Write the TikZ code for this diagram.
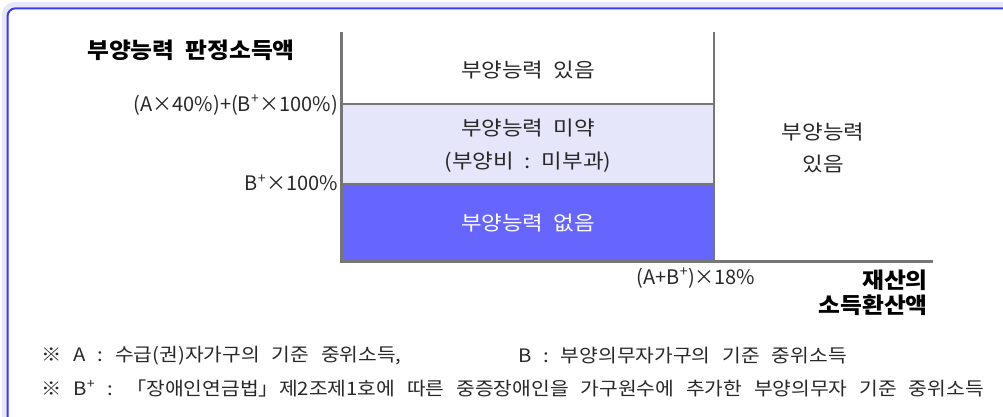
\documentclass[tikz,border=0pt]{standalone}
\usepackage{fontspec}
\setmainfont[WordSpace=2]{Noto Sans CJK KR}
\newfontfamily\lblfont[WordSpace=2, FakeStretch=1.12]{Noto Sans CJK KR}
\newfontfamily\ttlfont[WordSpace=2, FakeStretch=1.08]{Noto Sans CJK KR}
\newfontfamily\notefont[WordSpace=2.6, FakeStretch=1.1]{Noto Sans CJK KR}
\usetikzlibrary{positioning}
\definecolor{framecol}{RGB}{58,58,240}
\definecolor{bandcol}{RGB}{232,232,250}
\definecolor{weakcol}{RGB}{230,230,250}
\definecolor{nonecol}{RGB}{102,102,255}
\definecolor{axiscol}{RGB}{118,118,118}
\definecolor{txtcol}{RGB}{40,40,40}

\begin{document}
\begin{tikzpicture}[x=1pt,y=-1pt,
	axis/.style={draw=axiscol, line width=3pt},
	grid/.style={draw=axiscol, line width=1.3pt},
	lbl/.style={inner sep=0pt, text=txtcol, font=\lblfont\fontsize{20}{32.5}\selectfont, align=center},
	val/.style={inner sep=0pt, text=txtcol, font=\fontsize{20}{24}\selectfont},
	ttl/.style={inner sep=0pt, text=black, font=\ttlfont\fontsize{22}{25}\selectfont\bfseries, align=right},
	note/.style={inner sep=0pt, anchor=west, text=txtcol, font=\notefont\fontsize{18.5}{20}\selectfont}]
	\useasboundingbox (0,0) rectangle (1003,417);
	\clip (0,0) rectangle (1003,417);
	\draw[bandcol, line width=5pt, rounded corners=10pt] (4.5,4.5) rectangle (1040,450);
	\draw[framecol, line width=2pt, rounded corners=8pt] (7.5,8.3) rectangle (1040,450);
	\fill[weakcol] (342,104) rectangle (714,184);
	\fill[nonecol] (342,184) rectangle (714,261);
	\draw[grid] (714,32) -- (714,261);
	\foreach \y in {104,184}{%
		\draw[grid] (342,\y) -- (714,\y);
	}
	\draw[axis] (341.5,32) -- (341.5,261.5) -- (933,261.5);
	\node[ttl] (yname) at (191,50) {부양능력 판정소득액};
	\node[val, anchor=east] (upper) at (338,105) {(A×40\%)+(B\textsuperscript{+}×100\%)};
	\node[val, anchor=east] (lower) at (338,183) {B\textsuperscript{+}×100\%};
	\node[lbl] (able) at (528,70) {부양능력 있음};
	\node[lbl] (weak) at (528,145.5) {부양능력 미약\\(부양비 : 미부과)};
	\node[lbl, text=white] (none) at (528,223) {부양능력 없음};
	\node[lbl] (rich) at (823,148) {부양능력\\있음};
	\node[val] (limit) at (696,278) {(A+B\textsuperscript{+})×18\%};
	\node[ttl, anchor=east] (xname) at (928,292.5) {재산의\\소득환산액};
	\node[note] (noteA) at (41,356) {※ A : 수급(권)자가구의 기준 중위소득,};
	\node[note] (noteB) at (518,356) {B : 부양의무자가구의 기준 중위소득};
	\node[note] (noteC) at (41,388) {※ B\textsuperscript{+} : 「장애인연금법」제2조제1호에 따른 중증장애인을 가구원수에 추가한 부양의무자 기준 중위소득};
\end{tikzpicture}
\end{document}
